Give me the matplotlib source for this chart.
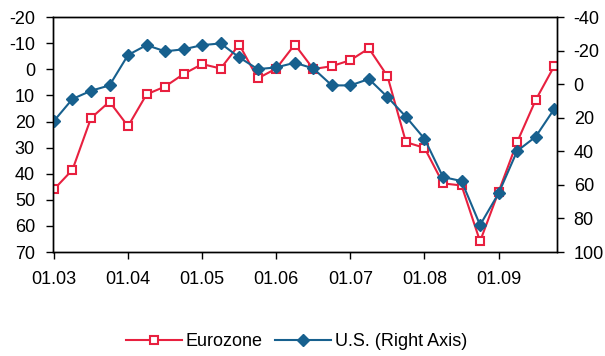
import numpy as np
import matplotlib
matplotlib.use("Agg")
from matplotlib import pyplot as plt

plt.rcParams['font.family'] = ['Liberation Sans', 'DejaVu Sans']
plt.rcParams['axes.unicode_minus'] = False

# quarterly, 01.03 .. 10.09
xlabels = ['01.03', '01.04', '01.05', '01.06', '01.07', '01.08', '01.09']
eurozone = [46, 38.5, 18.7, 12.4, 21.8, 9.6, 6.6, 1.8, -2, -0.3, -9.5, 3.5, -0.3, -9.5,
            -0.1, -1.2, -3.5, -8, 2.6, 27.9, 30.1, 43.7, 44.5, 65.9, 46.9, 27.9, 11.8, -1.2]
us = [21.9, 8.8, 3.9, 0.7, -17.4, -23.3, -19.6, -20.8, -23.3, -24.3, -16, -9, -10, -12.8,
      -9.4, 0.7, 0.7, -3.1, 7.6, 19.4, 32.5, 55.3, 57.7, 83.9, 65, 39.8, 31.3, 14.8]

red = '#E8203F'
blue = '#17608E'

x = np.arange(len(eurozone))

fig = plt.figure(figsize=(6.05, 3.56), dpi=100)
ax = fig.add_axes([0.0876, 0.292, 0.833, 0.66])
ax2 = ax.twinx()

l1, = ax.plot(x, eurozone, color=red, lw=1.5, marker='s', ms=6,
              mfc='white', mec=red, mew=1.5, label='Eurozone')
l2, = ax2.plot(x, us, color=blue, lw=1.5, marker='D', ms=6.5,
               mfc=blue, mec=blue, label='U.S. (Right Axis)')

ax.set_xlim(-0.05, 27.15)
ax.set_ylim(70, -20)
ax.set_yticks(np.arange(-20, 71, 10))
ax2.set_ylim(100, -40)
ax2.set_yticks(np.arange(-40, 101, 20))
ax.set_xticks(np.arange(0, 25, 4))
ax.set_xticklabels(xlabels)

for a in (ax, ax2):
    a.tick_params(labelsize=13, direction='out', length=5, width=1, colors='black')
    for s in a.spines.values():
        s.set_linewidth(1)
ax.tick_params(axis='y', pad=8)
ax2.tick_params(axis='y', pad=7)
ax.tick_params(axis='x', pad=9)

fig.legend([l1, l2], ['Eurozone', 'U.S. (Right Axis)'], loc='center',
           bbox_to_anchor=(0.49, 0.04), ncol=2, frameon=False, fontsize=13,
           handlelength=3.1, columnspacing=0.7, handletextpad=0.2)

fig.savefig('out.png', dpi=100)
